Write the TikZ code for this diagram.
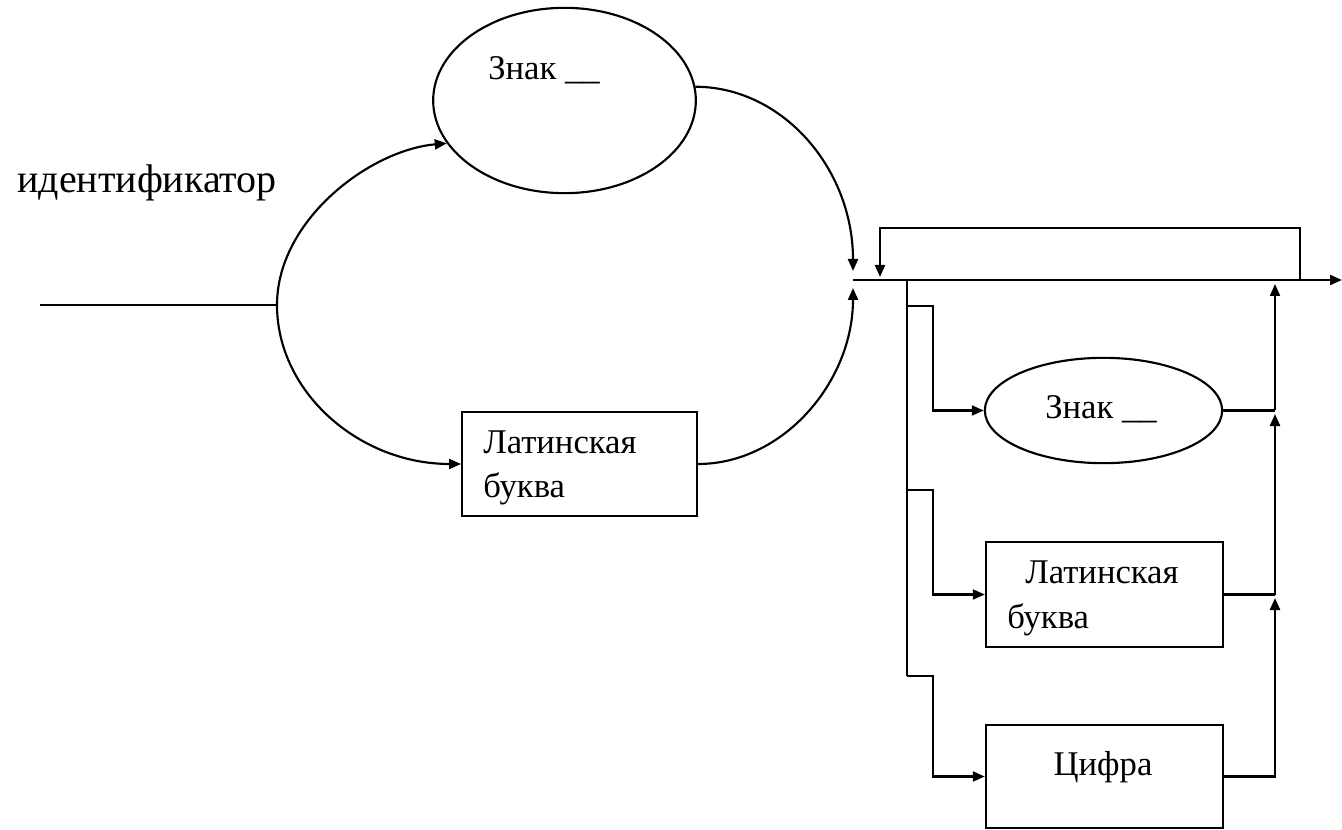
\documentclass[tikz,border=0pt]{standalone}
\usepackage{fontspec}
\setmainfont{Liberation Serif}
\usetikzlibrary{arrows.meta,shapes.geometric}
\begin{document}
\begin{tikzpicture}[x=0.75pt,y=-0.75pt,
  line/.style={line width=1.6pt,black},
  arr/.style={line,-{Triangle[length=9pt,width=7.5pt]}},
  oval/.style={draw,line width=1.6pt,ellipse,inner sep=0pt},
  block/.style={draw,line width=1.6pt,rectangle,inner sep=0pt},
  txt/.style={inner sep=0pt,font=\fontsize{26}{30}\selectfont},
  bigtxt/.style={inner sep=0pt,font=\fontsize{30}{34}\selectfont}]
\useasboundingbox (0,0) rectangle (1342,830);
\fill[white] (0,0) rectangle (1342,830);

% diagram title
\node[bigtxt,anchor=base west] (title) at (17,193) {идентификатор};

% first element: sign or Latin letter
\node[oval,minimum width=197pt,minimum height=139pt] (signA) at (564.5,100.5) {};
\node[txt,anchor=base west] (signAtext) at (488,80) {Знак \_\_};
\node[block,minimum width=176pt,minimum height=78pt] (latA) at (579.5,464) {};
\node[txt,anchor=base west] (latAtop) at (483,453) {Латинская};
\node[txt,anchor=base west] (latAbot) at (483,497) {буква};

% repeated tail elements
\node[oval,minimum width=178pt,minimum height=79pt] (signB) at (1103.5,410.5) {};
\node[txt,anchor=base west] (signBtext) at (1045,419) {Знак \_\_};
\node[block,minimum width=178pt,minimum height=79pt] (latB) at (1104.5,594.5) {};
\node[txt,anchor=base west] (latBtop) at (1025,583) {Латинская};
\node[txt,anchor=base west] (latBbot) at (1007,628) {буква};
\node[block,minimum width=178pt,minimum height=77pt] (digit) at (1104.5,776.5) {};
\node[txt,anchor=base] (digittext) at (1103,775) {Цифра};

% junction points
\coordinate (start) at (40,305);
\coordinate (split) at (277,305);
\coordinate (mergeT) at (853,271);
\coordinate (mergeB) at (853,288);
\coordinate (merge) at (853,280);
\coordinate (exit) at (1342,280);
\coordinate (loopR) at (1300,280);
\coordinate (loopL) at (880,277);
\coordinate (busTop) at (907,280);
\coordinate (tap1) at (907,306);
\coordinate (tap2) at (907,490);
\coordinate (busBot) at (907,676);
\coordinate (col) at (1275,0);
\coordinate (colA) at (1275,284);
\coordinate (colB) at (1275,414);
\coordinate (colC) at (1275,598);

% entry and the two alternatives
\draw[line] (start) -- (split);
\draw[arr] (split) .. controls (277,220) and (370,150) .. (signA.200);
\draw[arr] (split) .. controls (277,392) and (359,464) .. (latA.west);
\draw[arr] (signA.6) .. controls (783,87) and (853,169) .. (mergeT);
\draw[arr] (latA.east) .. controls (783,464) and (853,382) .. (mergeB);

% main line, loop back and exit
\draw[arr] (merge) -- (exit);
\draw[arr] (loopR) -- ++(0,-52) -| (loopL);

% branching bus
\draw[line] (busTop) -- (busBot);
\draw[arr] (tap1) -- ++(26,0) |- (signB.west);
\draw[arr] (tap2) -- ++(26,0) |- (latB.west);
\draw[arr] (busBot) -- ++(26,0) |- (digit.west);

% collecting line
\draw[arr] (digit.east) -| (colC);
\draw[line] (latB.east) -- (latB.east -| col);
\draw[arr] (latB.east -| col) -- (colB);
\draw[line] (signB.east) -- (signB.east -| col);
\draw[arr] (signB.east -| col) -- (colA);
\end{tikzpicture}
\end{document}
